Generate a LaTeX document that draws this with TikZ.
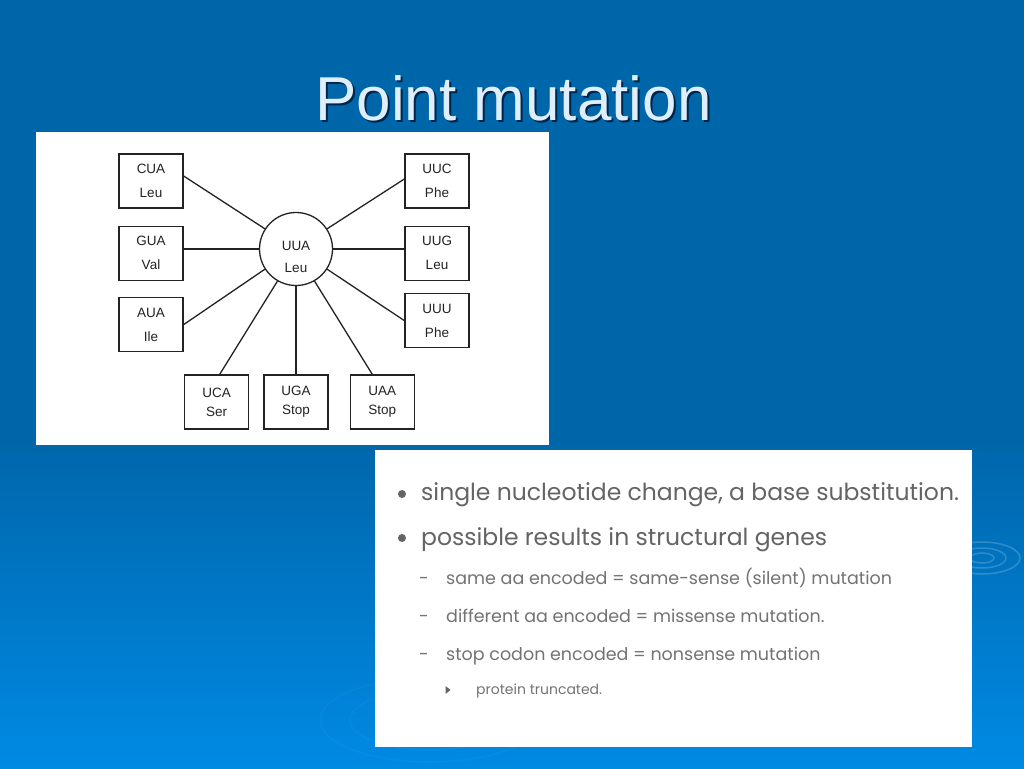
\documentclass[tikz,border=0pt]{standalone}
\usepackage{fontspec}
\setmainfont{Liberation Sans}
\newfontfamily\gothic{Poppins}
\usepackage{tikz}
\usetikzlibrary{shapes}
\usetikzlibrary{positioning}
\definecolor{slideblue}{RGB}{0,102,170}
\definecolor{slidelight}{RGB}{0,138,228}
\definecolor{titlewhite}{RGB}{222,238,250}
\definecolor{titleshade}{RGB}{0,36,74}
\definecolor{itemgray}{RGB}{100,100,100}
\definecolor{subgray}{RGB}{115,115,115}
\definecolor{inkgray}{RGB}{35,35,35}
\newcommand\mycodon[4][]{%
  \node[codon,#1] (#2) {#3\\#4};
}

\begin{document}
\begin{tikzpicture}[x=1pt,y=-1pt,
codon/.style={
  draw=inkgray,
  text=inkgray,
  line width=1.3pt,
  minimum width=64pt,
  minimum height=54pt,
  inner sep=0pt,
  align=center,
  font=\fontsize{13.5}{24}\selectfont},
lowcodon/.style={
  codon,
  font=\fontsize{13.5}{19}\selectfont},
link/.style={
  draw=inkgray,
  line width=1.3pt},
titletext/.style={
  anchor=base,
  inner sep=0pt,
  font=\fontsize{62}{62}\selectfont},
bigitem/.style={
  anchor=base west,
  inner sep=0pt,
  text=itemgray,
  font=\gothic\fontsize{23.5}{23.5}\selectfont},
subitem/.style={
  anchor=base west,
  inner sep=0pt,
  text=subgray,
  font=\gothic\fontsize{17.5}{17.5}\selectfont},
tinyitem/.style={
  anchor=base west,
  inner sep=0pt,
  text=subgray,
  font=\gothic\fontsize{14}{14}\selectfont}
]
\useasboundingbox (0,0) rectangle (1024,768);
% background
\fill[slideblue] (0,0) rectangle (1024,441);
\shade[top color=slideblue, bottom color=slidelight] (0,440) rectangle (1024,768);
\foreach \rx/\ry in {12/5, 24/10, 38/16}
  \draw[white, opacity=0.18, line width=1.5pt] (982,558) ellipse ({\rx} and {\ry});
\foreach \rx/\ry in {80/30, 110/42}
  \draw[white, opacity=0.03, line width=1.5pt] (430,720) ellipse ({\rx} and {\ry});
% title
\node[titletext, text=titleshade] (titleshadow) at (515.5,122) {Point mutation};
\node[titletext, text=titlewhite] (title) at (513.5,120) {Point mutation};
% panels
\fill[white] (36,132) rectangle (549,445);
\fill[white] (375,450) rectangle (972,747);
% codon diagram
\node[circle, draw=inkgray, line width=1.3pt, minimum size=73pt, inner sep=0pt] (uua) at (296,249) {};
\node[align=center, text=inkgray, font=\fontsize{13.5}{22}\selectfont] (uuatext) at ([yshift=-8pt]uua.center) {UUA\\Leu};
\mycodon[at={(151,181)}]{cua}{CUA}{Leu}
\mycodon[below=17pt of cua]{gua}{GUA}{Val}
\mycodon[below=16pt of gua]{aua}{AUA}{Ile}
\mycodon[at={(437,181)}]{uuc}{UUC}{Phe}
\mycodon[below=17pt of uuc]{uug}{UUG}{Leu}
\mycodon[below=12pt of uug]{uuu}{UUU}{Phe}
\mycodon[lowcodon, at={(296,402)}]{uga}{UGA}{Stop}
\mycodon[lowcodon, left=14pt of uga]{uca}{UCA}{Ser}
\mycodon[lowcodon, right=21pt of uga]{uaa}{UAA}{Stop}
\draw[link] ([yshift=5pt]cua.east) -- (uua.147);
\draw[link] (gua.east |- uua.west) -- (uua.west);
\draw[link] (aua.east) -- (uua.213);
\draw[link] ([yshift=2pt]uuc.west) -- (uua.33);
\draw[link] (uug.west |- uua.east) -- (uua.east);
\draw[link] (uuu.west) -- (uua.-33);
\draw[link] ([xshift=3pt]uca.north) -- (uua.240);
\draw[link] (uga.north) -- (uua.south);
\draw[link] ([xshift=-10pt]uaa.north) -- (uua.300);
% text panel
\fill[itemgray] (402,494) circle (4);
\fill[itemgray] (402,538) circle (4);
\node[bigitem] (itemone) at (421,500) {single nucleotide change, a base substitution.};
\node[bigitem] (itemtwo) at (421,545) {possible results in structural genes};
\node[subitem] (dashone) at (419,584) {-};
\node[subitem] (dashtwo) at (419,622) {-};
\node[subitem] (dashthree) at (419,660) {-};
\node[subitem] (subone) at (446,584) {same aa encoded = same-sense (silent) mutation};
\node[subitem] (subtwo) at (446,622) {different aa encoded = missense mutation.};
\node[subitem] (subthree) at (446,660) {stop codon encoded = nonsense mutation};
\fill[itemgray] (445.5,686) -- (450.5,690) -- (445.5,694) -- cycle;
\node[tinyitem] (truncated) at (476,694) {protein truncated.};
\end{tikzpicture}
\end{document}
